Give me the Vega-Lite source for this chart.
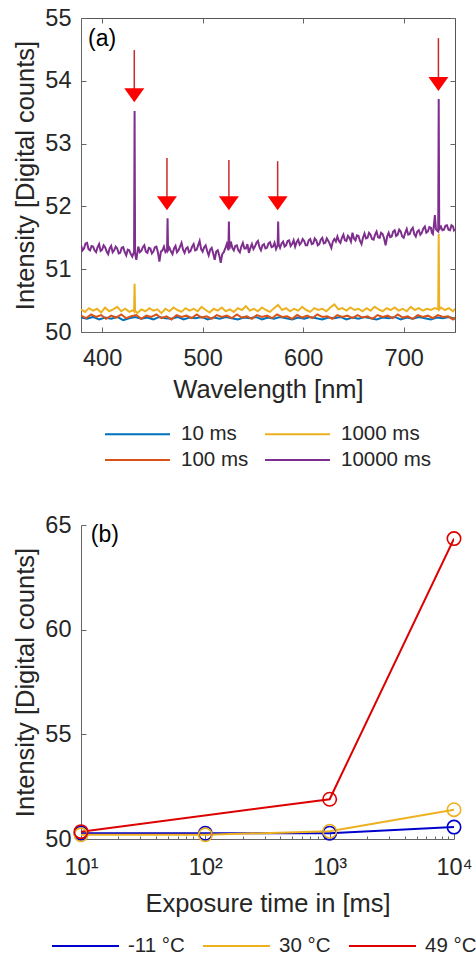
{
"$schema": "https://vega.github.io/schema/vega-lite/v6.json",
"padding": {"left": 13, "top": 5, "right": 0, "bottom": 0},
"background": "white",
"spacing": 193,
"bounds": "flush",
"config": {
  "font": "Liberation Sans",
  "view": {"stroke": null},
  "axis": {"grid": false, "labelFont": "Liberation Sans", "titleFont": "Liberation Sans", "labelFontSize": 23.5, "titleFontSize": 25.5, "labelColor": "#262626", "titleColor": "#262626", "titleFontWeight": "normal", "domainColor": "#666666", "tickColor": "#666666", "domainWidth": 1, "tickWidth": 1},
  "legend": {"labelFontSize": 20.5, "labelColor": "#262626", "labelFont": "Liberation Sans", "symbolType": "stroke", "padding": 0, "clipHeight": 20, "rowPadding": 5, "columnPadding": 15, "symbolStrokeWidth": 2}
},
"datasets": {
  "d10": [{"w":379,"v":50.23},{"w":385,"v":50.21},{"w":391,"v":50.24},{"w":397,"v":50.2},{"w":403,"v":50.23},{"w":409,"v":50.21},{"w":415,"v":50.24},{"w":421,"v":50.19},{"w":427,"v":50.22},{"w":433,"v":50.24},{"w":439,"v":50.21},{"w":445,"v":50.23},{"w":451,"v":50.2},{"w":457,"v":50.24},{"w":463,"v":50.22},{"w":469,"v":50.21},{"w":475,"v":50.24},{"w":481,"v":50.2},{"w":487,"v":50.23},{"w":493,"v":50.22},{"w":499,"v":50.24},{"w":505,"v":50.2},{"w":511,"v":50.23},{"w":517,"v":50.21},{"w":523,"v":50.24},{"w":529,"v":50.22},{"w":535,"v":50.2},{"w":541,"v":50.23},{"w":547,"v":50.22},{"w":553,"v":50.24},{"w":559,"v":50.2},{"w":565,"v":50.23},{"w":571,"v":50.21},{"w":577,"v":50.24},{"w":583,"v":50.22},{"w":589,"v":50.2},{"w":595,"v":50.23},{"w":601,"v":50.21},{"w":607,"v":50.24},{"w":613,"v":50.22},{"w":619,"v":50.2},{"w":625,"v":50.23},{"w":631,"v":50.22},{"w":637,"v":50.24},{"w":643,"v":50.2},{"w":649,"v":50.23},{"w":655,"v":50.21},{"w":661,"v":50.24},{"w":667,"v":50.22},{"w":673,"v":50.2},{"w":679,"v":50.23},{"w":685,"v":50.22},{"w":691,"v":50.24},{"w":697,"v":50.2},{"w":703,"v":50.23},{"w":709,"v":50.21},{"w":715,"v":50.24},{"w":721,"v":50.22},{"w":727,"v":50.2},{"w":733,"v":50.23},{"w":739,"v":50.22},{"w":745,"v":50.24},{"w":751,"v":50.21}],
  "d100": [{"w":379,"v":50.26},{"w":384,"v":50.22},{"w":389,"v":50.28},{"w":394,"v":50.24},{"w":399,"v":50.27},{"w":404,"v":50.21},{"w":409,"v":50.26},{"w":414,"v":50.23},{"w":419,"v":50.28},{"w":424,"v":50.22},{"w":429,"v":50.25},{"w":434,"v":50.27},{"w":439,"v":50.21},{"w":444,"v":50.26},{"w":449,"v":50.24},{"w":454,"v":50.28},{"w":459,"v":50.22},{"w":464,"v":50.25},{"w":469,"v":50.2},{"w":474,"v":50.27},{"w":479,"v":50.24},{"w":484,"v":50.26},{"w":489,"v":50.22},{"w":494,"v":50.28},{"w":499,"v":50.23},{"w":504,"v":50.25},{"w":509,"v":50.21},{"w":514,"v":50.27},{"w":519,"v":50.24},{"w":524,"v":50.26},{"w":529,"v":50.22},{"w":534,"v":50.28},{"w":539,"v":50.23},{"w":544,"v":50.25},{"w":549,"v":50.21},{"w":554,"v":50.27},{"w":559,"v":50.24},{"w":564,"v":50.26},{"w":569,"v":50.22},{"w":574,"v":50.28},{"w":579,"v":50.24},{"w":584,"v":50.25},{"w":589,"v":50.21},{"w":594,"v":50.27},{"w":599,"v":50.23},{"w":604,"v":50.26},{"w":609,"v":50.22},{"w":614,"v":50.28},{"w":619,"v":50.24},{"w":624,"v":50.25},{"w":629,"v":50.21},{"w":634,"v":50.27},{"w":639,"v":50.24},{"w":644,"v":50.26},{"w":649,"v":50.22},{"w":654,"v":50.27},{"w":659,"v":50.23},{"w":664,"v":50.25},{"w":669,"v":50.21},{"w":674,"v":50.27},{"w":679,"v":50.24},{"w":684,"v":50.26},{"w":689,"v":50.22},{"w":694,"v":50.28},{"w":699,"v":50.23},{"w":704,"v":50.25},{"w":709,"v":50.21},{"w":714,"v":50.27},{"w":719,"v":50.24},{"w":724,"v":50.26},{"w":729,"v":50.22},{"w":734,"v":50.27},{"w":739,"v":50.24},{"w":744,"v":50.25},{"w":749,"v":50.2},{"w":751,"v":50.23}],
  "d1000": [{"w":379,"v":50.36},{"w":383,"v":50.32},{"w":387,"v":50.38},{"w":391,"v":50.34},{"w":395,"v":50.37},{"w":399,"v":50.31},{"w":403,"v":50.39},{"w":407,"v":50.33},{"w":411,"v":50.36},{"w":415,"v":50.4},{"w":419,"v":50.33},{"w":423,"v":50.37},{"w":427,"v":50.32},{"w":431,"v":50.35},{"w":431.8,"v":50.33},{"w":432.3,"v":50.77},{"w":432.8,"v":50.34},{"w":435,"v":50.3},{"w":439,"v":50.36},{"w":443,"v":50.33},{"w":447,"v":50.38},{"w":451,"v":50.34},{"w":455,"v":50.36},{"w":459,"v":50.3},{"w":463,"v":50.37},{"w":467,"v":50.33},{"w":471,"v":50.39},{"w":475,"v":50.35},{"w":479,"v":50.32},{"w":483,"v":50.38},{"w":487,"v":50.34},{"w":491,"v":50.37},{"w":495,"v":50.33},{"w":499,"v":50.4},{"w":503,"v":50.35},{"w":507,"v":50.31},{"w":511,"v":50.37},{"w":515,"v":50.34},{"w":519,"v":50.39},{"w":523,"v":50.33},{"w":527,"v":50.36},{"w":531,"v":50.32},{"w":535,"v":50.38},{"w":539,"v":50.35},{"w":543,"v":50.41},{"w":547,"v":50.34},{"w":551,"v":50.37},{"w":555,"v":50.33},{"w":559,"v":50.39},{"w":563,"v":50.35},{"w":567,"v":50.32},{"w":571,"v":50.38},{"w":575,"v":50.43},{"w":579,"v":50.35},{"w":583,"v":50.38},{"w":587,"v":50.33},{"w":591,"v":50.37},{"w":595,"v":50.34},{"w":599,"v":50.4},{"w":603,"v":50.35},{"w":607,"v":50.32},{"w":611,"v":50.38},{"w":615,"v":50.35},{"w":619,"v":50.37},{"w":623,"v":50.33},{"w":627,"v":50.39},{"w":631,"v":50.44},{"w":635,"v":50.36},{"w":639,"v":50.38},{"w":643,"v":50.34},{"w":647,"v":50.39},{"w":651,"v":50.35},{"w":655,"v":50.37},{"w":659,"v":50.33},{"w":663,"v":50.38},{"w":667,"v":50.34},{"w":671,"v":50.4},{"w":675,"v":50.36},{"w":679,"v":50.33},{"w":683,"v":50.38},{"w":687,"v":50.35},{"w":691,"v":50.39},{"w":695,"v":50.34},{"w":699,"v":50.37},{"w":703,"v":50.33},{"w":707,"v":50.4},{"w":711,"v":50.35},{"w":715,"v":50.38},{"w":719,"v":50.34},{"w":723,"v":50.37},{"w":727,"v":50.35},{"w":731,"v":50.38},{"w":734.3,"v":50.36},{"w":734.8,"v":51.56},{"w":735.3,"v":50.36},{"w":737,"v":50.39},{"w":741,"v":50.35},{"w":745,"v":50.38},{"w":749,"v":50.33},{"w":751,"v":50.37}],
  "d10000": [{"w":379,"v":51.38},{"w":380.5,"v":51.3},{"w":382,"v":51.33},{"w":383.5,"v":51.41},{"w":385,"v":51.42},{"w":386.5,"v":51.32},{"w":388,"v":51.3},{"w":389.5,"v":51.37},{"w":391,"v":51.36},{"w":392.5,"v":51.3},{"w":394,"v":51.27},{"w":395.5,"v":51.35},{"w":397,"v":51.4},{"w":398.5,"v":51.29},{"w":400,"v":51.31},{"w":401.5,"v":51.38},{"w":403,"v":51.35},{"w":404.5,"v":51.28},{"w":406,"v":51.24},{"w":407.5,"v":51.33},{"w":409,"v":51.37},{"w":410.5,"v":51.27},{"w":412,"v":51.3},{"w":413.5,"v":51.36},{"w":415,"v":51.33},{"w":416.5,"v":51.25},{"w":418,"v":51.26},{"w":419.5,"v":51.34},{"w":421,"v":51.35},{"w":422.5,"v":51.27},{"w":424,"v":51.22},{"w":425.5,"v":51.31},{"w":427,"v":51.3},{"w":428.5,"v":51.24},{"w":430,"v":51.2},{"w":431.8,"v":51.28},{"w":432.3,"v":53.52},{"w":432.8,"v":51.25},{"w":434,"v":51.15},{"w":436,"v":51.36},{"w":437.5,"v":51.27},{"w":439,"v":51.29},{"w":440.5,"v":51.35},{"w":442,"v":51.38},{"w":443.5,"v":51.28},{"w":445,"v":51.26},{"w":446.5,"v":51.34},{"w":448,"v":51.33},{"w":449.5,"v":51.25},{"w":451,"v":51.28},{"w":452.5,"v":51.35},{"w":454,"v":51.36},{"w":455.5,"v":51.27},{"w":457,"v":51.12},{"w":458.5,"v":51.28},{"w":460,"v":51.3},{"w":461.5,"v":51.36},{"w":463,"v":51.27},{"w":464.6,"v":51.3},{"w":465.1,"v":51.81},{"w":465.6,"v":51.3},{"w":467,"v":51.34},{"w":468.5,"v":51.28},{"w":470,"v":51.24},{"w":471.5,"v":51.33},{"w":473,"v":51.37},{"w":474.5,"v":51.27},{"w":476,"v":51.3},{"w":477.5,"v":51.36},{"w":479,"v":51.42},{"w":480.5,"v":51.31},{"w":482,"v":51.26},{"w":483.5,"v":51.33},{"w":485,"v":51.35},{"w":486.5,"v":51.27},{"w":488,"v":51.29},{"w":489.5,"v":51.36},{"w":491,"v":51.4},{"w":492.5,"v":51.3},{"w":494,"v":51.31},{"w":495.5,"v":51.38},{"w":497,"v":51.45},{"w":498.5,"v":51.32},{"w":500,"v":51.28},{"w":501.5,"v":51.35},{"w":503,"v":51.38},{"w":504.5,"v":51.29},{"w":506,"v":51.22},{"w":507.5,"v":51.31},{"w":509,"v":51.34},{"w":510.5,"v":51.25},{"w":512,"v":51.15},{"w":513.5,"v":51.28},{"w":515,"v":51.3},{"w":516.5,"v":51.22},{"w":518,"v":51.1},{"w":519.5,"v":51.24},{"w":521,"v":51.27},{"w":522.5,"v":51.33},{"w":524,"v":51.4},{"w":525.6,"v":51.3},{"w":526.1,"v":51.76},{"w":526.6,"v":51.32},{"w":528,"v":51.44},{"w":529.5,"v":51.34},{"w":531,"v":51.3},{"w":532.5,"v":51.37},{"w":534,"v":51.38},{"w":535.5,"v":51.3},{"w":537,"v":51.27},{"w":538.5,"v":51.36},{"w":540,"v":51.42},{"w":541.5,"v":51.33},{"w":543,"v":51.33},{"w":544.5,"v":51.4},{"w":546,"v":51.26},{"w":547.5,"v":51.34},{"w":549,"v":51.4},{"w":550.5,"v":51.32},{"w":552,"v":51.36},{"w":553.5,"v":51.42},{"w":555,"v":51.45},{"w":556.5,"v":51.35},{"w":558,"v":51.3},{"w":559.5,"v":51.38},{"w":561,"v":51.4},{"w":562.5,"v":51.33},{"w":564,"v":51.34},{"w":565.5,"v":51.41},{"w":567,"v":51.43},{"w":568.5,"v":51.35},{"w":570,"v":51.36},{"w":571.5,"v":51.42},{"w":573,"v":51.32},{"w":574.6,"v":51.38},{"w":575.1,"v":51.76},{"w":575.6,"v":51.4},{"w":577,"v":51.34},{"w":578.5,"v":51.41},{"w":580,"v":51.44},{"w":581.5,"v":51.36},{"w":583,"v":51.38},{"w":584.5,"v":51.45},{"w":586,"v":51.46},{"w":587.5,"v":51.37},{"w":589,"v":51.4},{"w":590.5,"v":51.46},{"w":592,"v":51.36},{"w":593.5,"v":51.43},{"w":595,"v":51.47},{"w":596.5,"v":51.39},{"w":598,"v":51.42},{"w":599.5,"v":51.48},{"w":601,"v":51.45},{"w":602.5,"v":51.38},{"w":604,"v":51.38},{"w":605.5,"v":51.46},{"w":607,"v":51.48},{"w":608.5,"v":51.4},{"w":610,"v":51.41},{"w":611.5,"v":51.49},{"w":613,"v":51.46},{"w":614.5,"v":51.38},{"w":616,"v":51.4},{"w":617.5,"v":51.47},{"w":619,"v":51.5},{"w":620.5,"v":51.41},{"w":622,"v":51.42},{"w":623.5,"v":51.49},{"w":625,"v":51.45},{"w":626.5,"v":51.4},{"w":628,"v":51.34},{"w":629.5,"v":51.44},{"w":631,"v":51.48},{"w":632.5,"v":51.44},{"w":634,"v":51.52},{"w":635.5,"v":51.45},{"w":637,"v":51.42},{"w":638.5,"v":51.5},{"w":640,"v":51.55},{"w":641.5,"v":51.46},{"w":643,"v":51.45},{"w":644.5,"v":51.53},{"w":646,"v":51.5},{"w":647.5,"v":51.44},{"w":649,"v":51.58},{"w":650.5,"v":51.49},{"w":652,"v":51.46},{"w":653.5,"v":51.54},{"w":655,"v":51.53},{"w":656.5,"v":51.45},{"w":658,"v":51.4},{"w":659.5,"v":51.5},{"w":661,"v":51.57},{"w":662.5,"v":51.49},{"w":664,"v":51.5},{"w":665.5,"v":51.58},{"w":667,"v":51.55},{"w":668.5,"v":51.48},{"w":670,"v":51.47},{"w":671.5,"v":51.55},{"w":673,"v":51.6},{"w":674.5,"v":51.51},{"w":676,"v":51.5},{"w":677.5,"v":51.58},{"w":679,"v":51.56},{"w":680.5,"v":51.49},{"w":682,"v":51.38},{"w":683.5,"v":51.52},{"w":685,"v":51.58},{"w":686.5,"v":51.51},{"w":688,"v":51.52},{"w":689.5,"v":51.6},{"w":691,"v":51.62},{"w":692.5,"v":51.53},{"w":694,"v":51.55},{"w":695.5,"v":51.63},{"w":697,"v":51.6},{"w":698.5,"v":51.52},{"w":700,"v":51.5},{"w":701.5,"v":51.58},{"w":703,"v":51.64},{"w":704.5,"v":51.55},{"w":706,"v":51.56},{"w":707.5,"v":51.63},{"w":709,"v":51.66},{"w":710.5,"v":51.56},{"w":712,"v":51.52},{"w":713.5,"v":51.6},{"w":715,"v":51.62},{"w":716.5,"v":51.55},{"w":718,"v":51.58},{"w":719.5,"v":51.65},{"w":721,"v":51.68},{"w":722.5,"v":51.58},{"w":724,"v":51.6},{"w":725.5,"v":51.67},{"w":727,"v":51.66},{"w":728,"v":51.58},{"w":729,"v":51.56},{"w":730,"v":51.7},{"w":731,"v":51.86},{"w":732,"v":51.64},{"w":733,"v":51.62},{"w":734.3,"v":51.6},{"w":734.8,"v":53.71},{"w":735.3,"v":51.62},{"w":736,"v":51.66},{"w":737,"v":51.68},{"w":738.5,"v":51.62},{"w":740,"v":51.63},{"w":741.5,"v":51.69},{"w":743,"v":51.7},{"w":744.5,"v":51.63},{"w":746,"v":51.62},{"w":747.5,"v":51.7},{"w":749,"v":51.68},{"w":750,"v":51.62},{"w":751,"v":51.64}],
  "arrows": [{"w":432.0,"top":54.49,"tip":53.77},{"w":464.5,"top":52.77,"tip":52.05},{"w":526.1,"top":52.74,"tip":52.05},{"w":574.6,"top":52.72,"tip":52.05},{"w":734.5,"top":54.68,"tip":53.95}],
  "exposure": [
    {"s":"-11 °C","t":10,"v":50.28},{"s":"-11 °C","t":100,"v":50.27},{"s":"-11 °C","t":1000,"v":50.28},{"s":"-11 °C","t":10000,"v":50.57},
    {"s":"30 °C","t":10,"v":50.2},{"s":"30 °C","t":100,"v":50.2},{"s":"30 °C","t":1000,"v":50.37},{"s":"30 °C","t":10000,"v":51.4},
    {"s":"49 °C","t":10,"v":50.35},{"s":"49 °C","t":1000,"v":51.9},{"s":"49 °C","t":10000,"v":64.35}
  ]
},
"resolve": {"scale": {"x": "independent", "y": "independent", "color": "independent"}, "legend": {"color": "independent"}},
"vconcat": [
  {
    "width": 374, "height": 314,
    "view": {"stroke": "#555555", "strokeWidth": 1},
    "resolve": {"axis": {"x": "independent", "y": "independent"}},
    "layer": [
      {
        "data": {"name": "d10"},
        "mark": {"type": "line", "strokeWidth": 2, "clip": true},
        "encoding": {
          "x": {"field": "w", "type": "quantitative", "scale": {"domain": [379, 751], "nice": false, "zero": false},
                "axis": {"title": "Wavelength [nm]", "values": [400, 500, 600, 700], "tickSize": -5, "labelPadding": 19, "titlePadding": 8}},
          "y": {"field": "v", "type": "quantitative", "scale": {"domain": [50, 55], "nice": false, "zero": false},
                "axis": {"title": "Intensity [Digital counts]", "values": [50, 51, 52, 53, 54, 55], "tickSize": -5, "labelPadding": 15, "titlePadding": 6}},
          "color": {"datum": "10 ms", "type": "nominal",
                    "scale": {"domain": ["10 ms", "1000 ms", "100 ms", "10000 ms"], "range": ["#0072BD", "#EDB120", "#D95319", "#7E2F8E"]},
                    "legend": {"title": null, "orient": "none", "legendX": 23, "legendY": 406, "columns": 2, "direction": "horizontal", "symbolSize": 4225, "labelOffset": 10, "columnPadding": 15, "symbolType": "stroke"}}
        }
      },
      {
        "data": {"name": "d100"},
        "mark": {"type": "line", "strokeWidth": 2, "clip": true},
        "encoding": {
          "x": {"field": "w", "type": "quantitative", "axis": {"orient": "top", "labels": false, "title": null, "domain": false, "values": [400, 500, 600, 700], "tickSize": -5}},
          "y": {"field": "v", "type": "quantitative", "axis": {"orient": "right", "labels": false, "title": null, "domain": false, "values": [50, 51, 52, 53, 54, 55], "tickSize": -5}},
          "color": {"datum": "100 ms", "type": "nominal"}
        }
      },
      {
        "data": {"name": "d1000"},
        "mark": {"type": "line", "strokeWidth": 2, "clip": true},
        "encoding": {
          "x": {"field": "w", "type": "quantitative", "axis": null},
          "y": {"field": "v", "type": "quantitative", "axis": null},
          "color": {"datum": "1000 ms", "type": "nominal"}
        }
      },
      {
        "data": {"name": "d10000"},
        "mark": {"type": "line", "strokeWidth": 2, "clip": true},
        "encoding": {
          "x": {"field": "w", "type": "quantitative", "axis": null},
          "y": {"field": "v", "type": "quantitative", "axis": null},
          "color": {"datum": "10000 ms", "type": "nominal"}
        }
      },
      {
        "data": {"name": "arrows"},
        "mark": {"type": "rule", "color": "#cc2a2a", "strokeWidth": 1.5},
        "encoding": {
          "x": {"field": "w", "type": "quantitative", "axis": null},
          "y": {"field": "top", "type": "quantitative", "axis": null},
          "y2": {"field": "tip"}
        }
      },
      {
        "data": {"name": "arrows"},
        "mark": {"type": "point", "shape": "M-1,-0.7L1,-0.7L0,0.7Z", "size": 400, "filled": true, "color": "#ff0000", "opacity": 1},
        "encoding": {
          "x": {"field": "w", "type": "quantitative", "axis": null},
          "y": {"field": "tip", "type": "quantitative", "axis": null}
        }
      },
      {
        "data": {"values": [{"label": "(a)", "x": 386, "y": 54.67}]},
        "mark": {"type": "text", "align": "left", "baseline": "middle", "fontSize": 23, "font": "Liberation Sans", "color": "#000000"},
        "encoding": {
          "x": {"field": "x", "type": "quantitative", "axis": null},
          "y": {"field": "y", "type": "quantitative", "axis": null},
          "text": {"field": "label"}
        }
      }
    ]
  },
  {
    "width": 373, "height": 314,
    "layer": [
      {
        "data": {"name": "exposure"},
        "mark": {"type": "line", "strokeWidth": 2, "clip": true},
        "encoding": {
          "x": {"field": "t", "type": "quantitative", "scale": {"type": "log", "domain": [10, 10000], "nice": false},
                "axis": {"title": "Exposure time in [ms]", "values": [10,20,30,40,50,60,70,80,90,100,200,300,400,500,600,700,800,900,1000,2000,3000,4000,5000,6000,7000,8000,9000,10000],
                         "labelExpr": "datum.value == 10 ? '10¹' : datum.value == 100 ? '10²' : datum.value == 1000 ? '10³' : datum.value == 10000 ? '10⁴' : ''",
                         "tickSize": {"condition": {"test": "indexof([10,100,1000,10000], datum.value) >= 0", "value": -6}, "value": -3},
                         "labelPadding": 22, "titlePadding": 10, "labelFlush": false, "labelOverlap": false}},
          "y": {"field": "v", "type": "quantitative", "scale": {"domain": [50, 65], "nice": false, "zero": false},
                "axis": {"title": "Intensity [Digital counts]", "values": [50, 55, 60, 65], "tickSize": -5, "labelPadding": 15, "titlePadding": 6}},
          "color": {"field": "s", "type": "nominal",
                    "scale": {"domain": ["-11 °C", "30 °C", "49 °C"], "range": ["#0000CD", "#EDB120", "#DD0000"]},
                    "legend": {"title": null, "orient": "none", "legendX": -30, "legendY": 411, "columns": 3, "gridAlign": "none", "direction": "horizontal", "symbolSize": 4489, "labelOffset": 8, "columnPadding": 17, "symbolType": "stroke"}}
        }
      },
      {
        "data": {"name": "exposure"},
        "mark": {"type": "point", "shape": "circle", "size": 180, "filled": false, "strokeWidth": 1.6, "opacity": 1},
        "encoding": {
          "x": {"field": "t", "type": "quantitative"},
          "y": {"field": "v", "type": "quantitative"},
          "color": {"field": "s", "type": "nominal"}
        }
      },
      {
        "data": {"values": [{"label": "(b)", "x": 12.0, "y": 64.52}]},
        "mark": {"type": "text", "align": "left", "baseline": "middle", "fontSize": 23, "font": "Liberation Sans", "color": "#000000"},
        "encoding": {
          "x": {"field": "x", "type": "quantitative"},
          "y": {"field": "y", "type": "quantitative"},
          "text": {"field": "label"}
        }
      }
    ]
  }
]
}
